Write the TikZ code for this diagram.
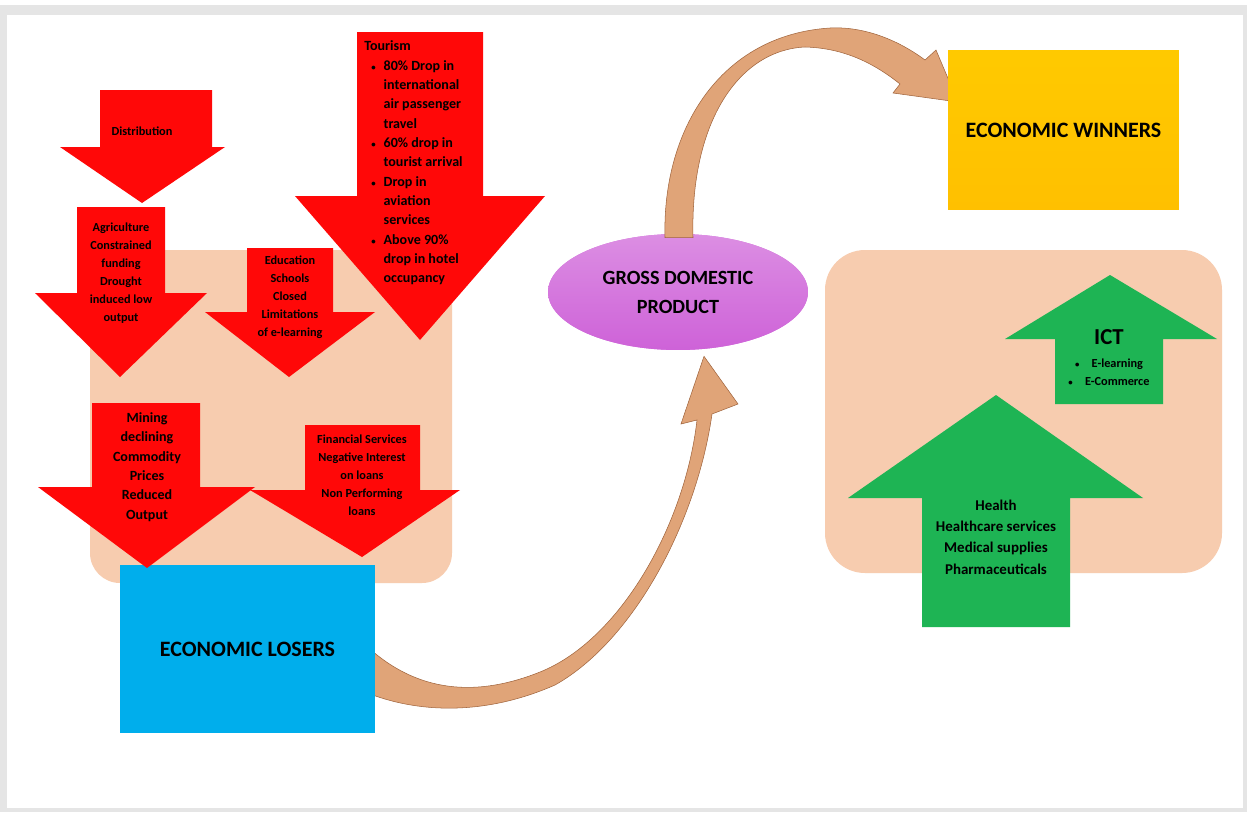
\documentclass[tikz,border=0pt]{standalone}
\usepackage{fontspec}
\setmainfont{Carlito}
\usetikzlibrary{calc,shapes.geometric}
\definecolor{redarr}{RGB}{255,8,8}
\definecolor{greenarr}{RGB}{30,180,84}
\definecolor{beige}{RGB}{247,204,175}
\definecolor{tan}{RGB}{224,164,120}
\definecolor{tanedge}{RGB}{160,100,60}
\definecolor{losblue}{RGB}{0,174,236}
\definecolor{wingold}{RGB}{255,192,0}
\definecolor{gdpviolet}{RGB}{206,98,216}
\newcommand\dotitem{{\fontsize{5}{5}\selectfont\textbullet}}
\begin{document}
\begin{tikzpicture}[x=0.02cm, y=-0.02cm, line join=miter,
    txt/.style={font=\bfseries\fontsize{7}{10.2}\selectfont, align=center, inner sep=0pt},
    bigtxt/.style={font=\bfseries\fontsize{8}{11}\selectfont, align=center, inner sep=0pt},
    redblock/.style={fill=redarr},
    greenblock/.style={fill=greenarr},
    backbox/.style={fill=beige, rounded corners=0.6cm},
    swoosh/.style={fill=tan, draw=tanedge, line width=0.3pt},
    sector/.style={font=\bfseries\fontsize{12.5}{15}\selectfont, minimum width=#1, inner sep=0pt}]
    \useasboundingbox (0,0) rectangle (1247,812);
    \fill[black!10] (0,5) rectangle (1247,812);
    \fill[white] (7,15) rectangle (1243,808);

    \fill[backbox] (90,250) rectangle (452,583);
    \fill[backbox, rounded corners=0.8cm] (825,250) rectangle (1222,573);

    \node[ellipse, fill=gdpviolet, top color=gdpviolet!72!white, bottom color=gdpviolet, minimum width=5.2cm, minimum height=2.32cm, inner sep=0pt, font=\bfseries\fontsize{11.5}{16.5}\selectfont, align=center] (gdp) at (678,292) {GROSS DOMESTIC\\PRODUCT};
    \node[sector=5.1cm, minimum height=3.36cm, fill=losblue] (losers) at (247.5,649) {ECONOMIC LOSERS};
    \coordinate (wintip) at (958,102);

    \fill[swoosh] ($(losers.east)+(-15,-9)$) .. controls (410,690) and (470,700) .. (540,672) .. controls (620,640) and (685,525) .. (697,420)
        -- (681,424) -- ($(gdp.south)+(26,6)$) -- (738,404) -- (712,414)
        .. controls (697,520) and (635,640) .. (555,685) .. controls (480,718) and (410,712) .. ($(losers.east)+(-15,41)$) -- cycle;
    \fill[swoosh] ($(gdp.north)+(-13,4)$) .. controls (662,130) and (720,35) .. (830,28) .. controls (870,26) and (905,45) .. (925,60)
        -- (936,50) -- (wintip) -- (893,93) -- (900,84)
        .. controls (870,60) and (840,48) .. (805,47) .. controls (740,50) and (690,120) .. ($(gdp.north)+(15,4)$) -- cycle;
    \node[sector=4.62cm, minimum height=3.2cm, top color=wingold!85!yellow, bottom color=wingold] (winners) at (1063.5,130) {ECONOMIC WINNERS};
    \node[sector=5.1cm, minimum height=3.36cm, fill=losblue] at (losers) {ECONOMIC LOSERS};

    \fill[redblock] (100,90) -- (212,90) -- (212,147) -- (225,147) -- (142,203) -- (60,147) -- (100,147) -- cycle;
    \fill[redblock] (77,207) -- (165,207) -- (165,293) -- (207,293) -- (120,377) -- (35,293) -- (77,293) -- cycle;
    \fill[redblock] (247,248) -- (333,248) -- (333,312) -- (375,312) -- (289,377) -- (205,312) -- (247,312) -- cycle;
    \fill[redblock] (357,32) -- (483,32) -- (483,196) -- (545,196) -- (420,340) -- (295,196) -- (357,196) -- cycle;
    \fill[redblock] (92,403) -- (200,403) -- (200,487) -- (255,487) -- (147,568) -- (38,487) -- (92,487) -- cycle;
    \fill[redblock] (305,425) -- (420,425) -- (420,490) -- (460,490) -- (362,557) -- (250,490) -- (305,490) -- cycle;

    \node[txt] (distribution) at (142,131) {Distribution};
    \node[txt] (agriculture) at (121,273) {Agriculture\\Constrained\\funding\\Drought\\induced low\\output};
    \node[txt] (education) at (290,297) {Education\\Schools\\Closed\\Limitations\\of e-learning};
    \node[bigtxt] (mining) at (147,467) {Mining\\declining\\Commodity\\Prices\\Reduced\\Output};
    \node[txt] (financial) at (362,475) {Financial Services\\Negative Interest\\on loans\\Non Performing\\loans};
    \node[anchor=north west, inner sep=0pt, font=\bfseries\fontsize{8}{11}\selectfont] (tourism) at (364,37) {%
        \begin{tabular}{@{\hspace{4pt}}l@{\hspace{4.5pt}}l@{}}
            \multicolumn{2}{@{}l@{}}{Tourism}\\
            \dotitem & 80\% Drop in\\
                     & international\\
                     & air passenger\\
                     & travel\\
            \dotitem & 60\% drop in\\
                     & tourist arrival\\
            \dotitem & Drop in\\
                     & aviation\\
                     & services\\
            \dotitem & Above 90\%\\
                     & drop in hotel\\
                     & occupancy
        \end{tabular}};

    \fill[greenblock] (1055,404) -- (1163,404) -- (1163,339) -- (1217,339) -- (1110,275) -- (1005,339) -- (1055,339) -- cycle;
    \fill[greenblock] (922,627) -- (1070,627) -- (1070,498) -- (1143,498) -- (996,395) -- (848,498) -- (922,498) -- cycle;
    \node[inner sep=0pt, font=\bfseries\fontsize{13}{15}\selectfont] (ict) at (1109,337) {ICT};
    \node[txt] (ictlist) at (1109,372) {\dotitem\hspace{7pt}E-learning\\\dotitem\hspace{7pt}E-Commerce};
    \node[txt, font=\bfseries\fontsize{8.5}{12.2}\selectfont] (health) at (996,537) {Health\\Healthcare services\\Medical supplies\\Pharmaceuticals};
\end{tikzpicture}
\end{document}
